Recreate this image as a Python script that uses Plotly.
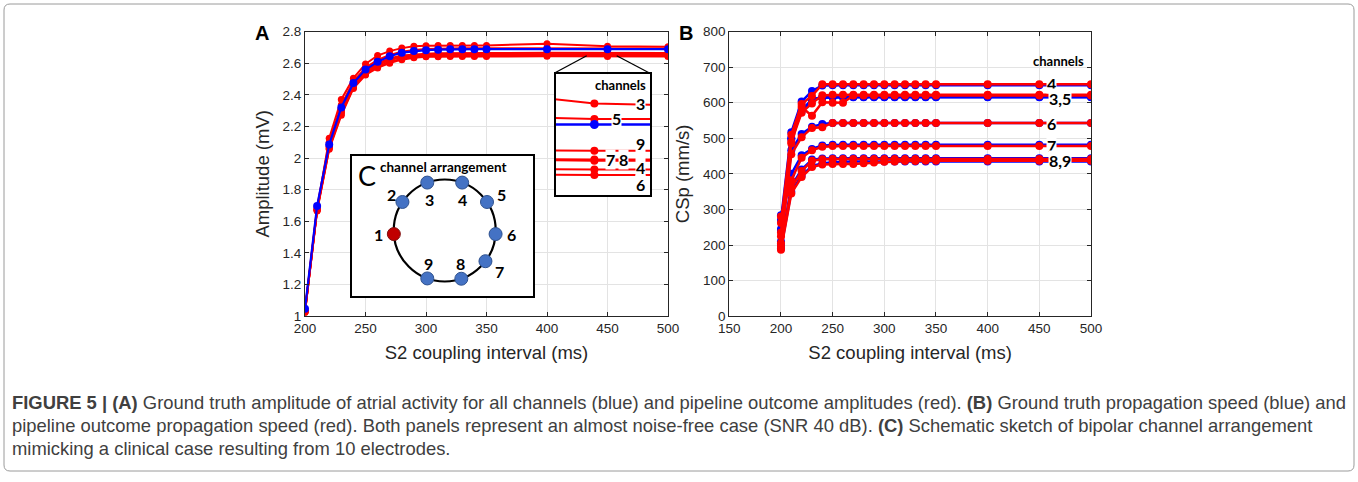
import plotly.graph_objects as go
import numpy as np

W, H = 1358, 482

# ---------------- data ----------------
interval = [200, 210, 220, 230, 240, 250, 260, 270, 280, 290, 300, 310, 320, 330, 340, 350, 400, 450, 500]

# Panel A: amplitude (mV)
amp_truth = [1.047, 1.697, 2.086, 2.320, 2.474, 2.559, 2.608, 2.644, 2.666, 2.676, 2.682, 2.685, 2.687, 2.688, 2.688, 2.688, 2.688, 2.688, 2.688]
amp_ch3 = [1.030, 1.670, 2.125, 2.370, 2.505, 2.595, 2.648, 2.676, 2.695, 2.706, 2.710, 2.711, 2.712, 2.712, 2.712, 2.712, 2.722, 2.707, 2.704]
amp_ch5 = [1.040, 1.690, 2.100, 2.335, 2.485, 2.570, 2.620, 2.652, 2.672, 2.683, 2.689, 2.692, 2.693, 2.694, 2.694, 2.694, 2.696, 2.693, 2.693]
amp_ch9 = [1.035, 1.680, 2.080, 2.310, 2.465, 2.550, 2.598, 2.630, 2.648, 2.656, 2.660, 2.662, 2.663, 2.663, 2.664, 2.664, 2.665, 2.664, 2.664]
amp_ch7 = [1.030, 1.675, 2.070, 2.295, 2.455, 2.540, 2.590, 2.622, 2.640, 2.649, 2.652, 2.654, 2.655, 2.656, 2.656, 2.656, 2.657, 2.656, 2.656]
amp_ch8 = [1.030, 1.675, 2.070, 2.290, 2.452, 2.537, 2.588, 2.620, 2.638, 2.647, 2.651, 2.653, 2.654, 2.655, 2.655, 2.655, 2.656, 2.655, 2.655]
amp_ch4 = [1.025, 1.670, 2.060, 2.280, 2.445, 2.530, 2.578, 2.608, 2.628, 2.638, 2.643, 2.645, 2.646, 2.647, 2.647, 2.647, 2.648, 2.647, 2.647]
amp_ch6 = [1.025, 1.665, 2.055, 2.270, 2.440, 2.525, 2.570, 2.600, 2.622, 2.634, 2.640, 2.641, 2.642, 2.642, 2.642, 2.642, 2.643, 2.642, 2.642]

# Panel B: conduction speed CSp (mm/s), ground truth and pipeline per channel
csp_truth_ch4 = [270, 517, 603, 633, 648, 649, 649, 649, 649, 649, 649, 649, 649, 649, 649, 649, 649, 649, 649]
csp_pipe_ch4 = [262, 510, 596, 619, 652, 652, 652, 652, 652, 652, 652, 652, 652, 652, 652, 652, 652, 652, 652]
csp_truth_ch3 = [240, 500, 580, 608, 614, 615, 615, 615, 615, 615, 615, 615, 615, 615, 615, 615, 615, 615, 615]
csp_pipe_ch3 = [235, 490, 572, 598, 621, 622, 622, 622, 622, 622, 622, 622, 622, 622, 622, 622, 622, 622, 622]
csp_truth_ch5 = [245, 498, 575, 610, 615, 616, 616, 616, 616, 616, 616, 616, 616, 616, 616, 616, 616, 616, 616]
csp_pipe_ch5 = [225, 485, 588, 563, 601, 600, 600, 620, 620, 620, 620, 620, 620, 620, 620, 620, 620, 620, 620]
csp_truth_ch6 = [210, 466, 512, 532, 540, 543, 543, 543, 543, 543, 543, 543, 543, 543, 543, 543, 543, 543, 543]
csp_pipe_ch6 = [205, 455, 503, 529, 531, 543, 543, 543, 543, 543, 543, 543, 543, 543, 543, 543, 543, 543, 543]
csp_truth_ch7 = [284, 400, 452, 470, 480, 482, 482, 482, 482, 482, 482, 482, 482, 482, 482, 482, 482, 482, 482]
csp_pipe_ch7 = [280, 382, 445, 466, 476, 478, 478, 478, 478, 478, 478, 478, 478, 478, 478, 478, 478, 478, 478]
csp_truth_ch8 = [200, 365, 412, 440, 443, 444, 444, 444, 444, 444, 444, 444, 444, 444, 444, 444, 444, 444, 444]
csp_pipe_ch8 = [195, 360, 408, 437, 441, 442, 442, 442, 442, 442, 442, 442, 442, 442, 442, 442, 442, 442, 442]
csp_truth_ch9 = [190, 350, 395, 422, 430, 433, 434, 435, 435, 435, 435, 435, 435, 435, 435, 435, 435, 435, 435]
csp_pipe_ch9 = [187, 345, 391, 419, 426, 428, 428, 428, 430, 432, 434, 435, 436, 436, 437, 437, 437, 437, 437]

channels = ["3", "4", "5", "6", "7", "8", "9"]

# Panel C: electrode arrangement (angle on the ring, degrees)
electrode_names = ["1", "2", "3", "4", "5", "6", "7", "8", "9"]
electrode_angles = [184, 146, 110, 70, 34, -4, -37, -71, -110]

amp_pipeline = {"3": amp_ch3, "4": amp_ch4, "5": amp_ch5, "6": amp_ch6,
                "7": amp_ch7, "8": amp_ch8, "9": amp_ch9}
csp_truth = {"3": csp_truth_ch3, "4": csp_truth_ch4, "5": csp_truth_ch5, "6": csp_truth_ch6,
             "7": csp_truth_ch7, "8": csp_truth_ch8, "9": csp_truth_ch9}
csp_pipeline = {"3": csp_pipe_ch3, "4": csp_pipe_ch4, "5": csp_pipe_ch5, "6": csp_pipe_ch6,
                "7": csp_pipe_ch7, "8": csp_pipe_ch8, "9": csp_pipe_ch9}

# ---------------- helpers ----------------
def fx(p):
    return p / W

def fy(p):
    return 1 - p / H

RED = "#FF0000"
BLUE = "#0000FF"
AX = "#262626"
GRID = "#E3E3E3"
TICKFONT = dict(family="Liberation Sans, Arial", size=13.5, color=AX)
TITLEFONT = dict(family="Liberation Sans, Arial", size=18.5, color=AX)
LBL = "Lato, Open Sans, sans-serif"

fig = go.Figure()

# ---- Panel A main ----
for ch in channels:
    fig.add_trace(go.Scatter(x=interval, y=amp_pipeline[ch], mode="lines+markers",
                             line=dict(color=RED, width=2), marker=dict(color=RED, size=7),
                             xaxis="x", yaxis="y", showlegend=False))
fig.add_trace(go.Scatter(x=interval, y=amp_truth, mode="lines+markers",
                         line=dict(color=BLUE, width=2.2), marker=dict(color=BLUE, size=8),
                         xaxis="x", yaxis="y", showlegend=False))

# ---- Panel B ----
for ch in channels:
    fig.add_trace(go.Scatter(x=interval, y=csp_truth[ch], mode="lines+markers",
                             line=dict(color=BLUE, width=2.5), marker=dict(color=BLUE, size=8),
                             xaxis="x2", yaxis="y2", showlegend=False))
for ch in channels:
    fig.add_trace(go.Scatter(x=interval, y=csp_pipeline[ch], mode="lines+markers",
                             line=dict(color=RED, width=2.5), marker=dict(color=RED, size=8),
                             xaxis="x2", yaxis="y2", showlegend=False))

# ---- Panel A inset (zoom around 450 ms) ----
for ch in channels:
    fig.add_trace(go.Scatter(x=interval, y=amp_pipeline[ch], mode="lines+markers",
                             line=dict(color=RED, width=2), marker=dict(color=RED, size=8, symbol="circle"),
                             xaxis="x3", yaxis="y3", showlegend=False))
fig.add_trace(go.Scatter(x=interval, y=amp_truth, mode="lines+markers",
                         line=dict(color=BLUE, width=2.5), marker=dict(color=BLUE, size=9),
                         xaxis="x3", yaxis="y3", showlegend=False))

# ---- Panel C schematic ----
ang = np.deg2rad(np.array(electrode_angles, dtype=float))
ex, ey = np.cos(ang), np.sin(ang)
ecolors = ["#C00000" if n == "1" else "#4472C4" for n in electrode_names]
elines = ["#7F1010" if n == "1" else "#2F528F" for n in electrode_names]
fig.add_trace(go.Scatter(x=ex, y=ey, mode="markers",
                         marker=dict(color=ecolors, size=13, line=dict(color=elines, width=1)),
                         xaxis="x4", yaxis="y4", showlegend=False, cliponaxis=False))

# ---------------- axes ----------------
def main_axis(**kw):
    d = dict(showline=True, linecolor=AX, linewidth=1, mirror="ticks", ticks="inside",
             ticklen=4, tickcolor=AX, showgrid=True, gridcolor=GRID, gridwidth=1,
             zeroline=False, tickfont=TICKFONT, title_font=TITLEFONT)
    d.update(kw)
    return d

def plain_axis(**kw):
    d = dict(showgrid=False, zeroline=False, showticklabels=False, ticks="", showline=True,
             mirror=True, linecolor="black", linewidth=1.5)
    d.update(kw)
    return d

top, bottom = 31.5, 316.2
fig.update_layout(
    xaxis=main_axis(domain=[fx(305), fx(668)], range=[200, 500], dtick=50, tick0=200, anchor="y",
                    title=dict(text="S2 coupling interval (ms)", standoff=10)),
    yaxis=main_axis(domain=[fy(bottom), fy(top)], range=[1, 2.8], dtick=0.2, tick0=1, anchor="x",
                    title=dict(text="Amplitude (mV)", standoff=8)),
    xaxis2=main_axis(domain=[fx(729.3), fx(1091)], range=[150, 500], dtick=50, tick0=150, anchor="y2",
                     title=dict(text="S2 coupling interval (ms)", standoff=10)),
    yaxis2=main_axis(domain=[fy(bottom), fy(top)], range=[0, 800], dtick=100, tick0=0, anchor="x2",
                     title=dict(text="CSp (mm/s)", standoff=8)),
    xaxis3=plain_axis(domain=[fx(555.7), fx(650)], range=[437, 468.7], anchor="y3"),
    yaxis3=plain_axis(domain=[fy(195), fy(74.3)], range=[2.6237, 2.7337], anchor="x3"),
    xaxis4=plain_axis(domain=[fx(352), fx(533)], range=[-1.818, 1.731], anchor="y4"),
    yaxis4=plain_axis(domain=[fy(296), fy(156)], range=[-1.284, 1.461], anchor="x4"),
)

shapes = []
# ring for schematic
shapes.append(dict(type="circle", xref="x4", yref="y4", x0=-1, y0=-1, x1=1, y1=1,
                   line=dict(color="black", width=2.2), layer="below"))
# connector lines to inset
shapes.append(dict(type="line", xref="paper", yref="paper", x0=fx(555.5), y0=fy(72.5),
                   x1=fx(586.7), y1=fy(55.7), line=dict(color="black", width=1.3)))
shapes.append(dict(type="line", xref="paper", yref="paper", x0=fx(616.7), y0=fy(55.7),
                   x1=fx(648.5), y1=fy(72.5), line=dict(color="black", width=1.3)))
# outer frame
r = 6
x0p, y0p, x1p, y1p = 4, 4, 1354, 471
path = (f"M {fx(x0p + r)} {fy(y0p)} L {fx(x1p - r)} {fy(y0p)} Q {fx(x1p)} {fy(y0p)} {fx(x1p)} {fy(y0p + r)} "
        f"L {fx(x1p)} {fy(y1p - r)} Q {fx(x1p)} {fy(y1p)} {fx(x1p - r)} {fy(y1p)} "
        f"L {fx(x0p + r)} {fy(y1p)} Q {fx(x0p)} {fy(y1p)} {fx(x0p)} {fy(y1p - r)} "
        f"L {fx(x0p)} {fy(y0p + r)} Q {fx(x0p)} {fy(y0p)} {fx(x0p + r)} {fy(y0p)} Z")
shapes.append(dict(type="path", xref="paper", yref="paper", path=path,
                   line=dict(color="#9A9A9A", width=1)))

ann = []
def A(**kw):
    d = dict(showarrow=False, xanchor="center", yanchor="middle")
    d.update(kw)
    ann.append(d)

# panel letters
A(text="<b>A</b>", x=fx(262), y=fy(33), xref="paper", yref="paper",
  font=dict(family="Liberation Sans, Arial", size=20, color="black"))
A(text="<b>B</b>", x=fx(686), y=fy(33), xref="paper", yref="paper",
  font=dict(family="Liberation Sans, Arial", size=20, color="black"))

# inset labels (domain fractions of inset)
inset_labels = [("3", 0.894, 0.762), ("5", 0.64, 0.63), ("9", 0.894, 0.425), ("7", 0.578, 0.29),
                ("8", 0.722, 0.29), ("4", 0.894, 0.228), ("6", 0.90, 0.09)]
for t, fxv, fyv in inset_labels:
    A(text=f"<b>{t}</b>", x=fxv, y=fyv, xref="x3 domain", yref="y3 domain",
      bgcolor="white", borderpad=0, font=dict(family=LBL, size=16, color="black"))
A(text="<b>channels</b>", x=0.98, y=0.915, xref="x3 domain", yref="y3 domain", xanchor="right",
  font=dict(family=LBL, size=13, color="black"))

# panel B labels
b_labels = [("4", 0.892, 0.818), ("3,5", 0.914, 0.765), ("6", 0.892, 0.676), ("7", 0.892, 0.60),
            ("8,9", 0.914, 0.547)]
for t, fxv, fyv in b_labels:
    A(text=f"<b>{t}</b>", x=fxv, y=fyv, xref="x2 domain", yref="y2 domain",
      bgcolor="white", borderpad=0, font=dict(family=LBL, size=16, color="black"))
A(text="<b>channels</b>", x=0.909, y=0.896, xref="x2 domain", yref="y2 domain",
  font=dict(family=LBL, size=13, color="black"))

# panel C labels (positions in ring units)
c_label_pos = [(-1.30, -0.07), (-1.04, 0.70), (-0.29, 0.60), (0.35, 0.60), (1.12, 0.70),
               (1.31, -0.08), (1.08, -0.81), (0.31, -0.64), (-0.32, -0.64)]
for n, (lx, ly) in zip(electrode_names, c_label_pos):
    A(text=f"<b>{n}</b>", x=lx, y=ly, xref="x4", yref="y4",
      font=dict(family=LBL, size=16, color="black"))
A(text="C", x=fx(367), y=fy(175), xref="paper", yref="paper",
  font=dict(family=LBL, size=27, color="black"))
A(text="<b>channel arrangement</b>", x=fx(443.5), y=fy(166.5), xref="paper", yref="paper",
  font=dict(family=LBL, size=13.5, color="black"))

# caption
cap_font = dict(family="Liberation Sans, Arial", size=18.4, color="#404040")
caption = [
    "<b>FIGURE 5 | (A)</b> Ground truth amplitude of atrial activity for all channels (blue) and pipeline outcome amplitudes (red). <b>(B)</b> Ground truth propagation speed (blue) and",
    "pipeline outcome propagation speed (red). Both panels represent an almost noise-free case (SNR 40 dB). <b>(C)</b> Schematic sketch of bipolar channel arrangement",
    "mimicking a clinical case resulting from 10 electrodes.",
]
for i, line in enumerate(caption):
    A(text=line, x=fx(10), y=fy(402 + 23 * i), xref="paper", yref="paper", xanchor="left",
      font=cap_font)

fig.update_layout(
    width=W, height=H, margin=dict(l=0, r=0, t=0, b=0),
    paper_bgcolor="white", plot_bgcolor="white", template="none",
    shapes=shapes, annotations=ann, showlegend=False,
)

fig.write_html("out.html", config={"displayModeBar": False},
               post_script="document.body.style.margin='0px';")
